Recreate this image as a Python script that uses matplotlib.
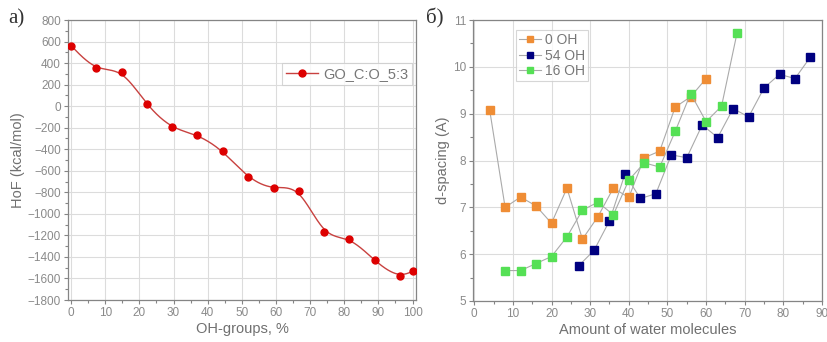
import numpy as np
import matplotlib
matplotlib.use("Agg")
import matplotlib.pyplot as plt

# ---- data: panel a ----
oh_pct = [0, 7.4, 14.8, 22.2, 29.6, 37.0, 44.4, 51.9, 59.3, 66.7, 74.1, 81.5, 88.9, 96.3, 100]
hof = [562, 352, 315, 19, -197, -271, -420, -660, -759, -787, -1167, -1238, -1433, -1575, -1534]

# ---- data: panel b ----
x_0oh = [4, 8, 12, 16, 20, 24, 28, 32, 36, 40, 44, 48, 52, 56, 60]
d_0oh = [9.08, 7.00, 7.22, 7.03, 6.66, 7.41, 6.32, 6.80, 7.41, 7.21, 8.06, 8.20, 9.14, 9.36, 9.75]
x_54oh = [27, 31, 35, 39, 43, 47, 51, 55, 59, 63, 67, 71, 75, 79, 83, 87]
d_54oh = [5.75, 6.08, 6.71, 7.71, 7.19, 7.29, 8.12, 8.06, 8.76, 8.49, 9.11, 8.93, 9.55, 9.84, 9.75, 10.21]
x_16oh = [8, 12, 16, 20, 24, 28, 32, 36, 40, 44, 48, 52, 56, 60, 64, 68]
d_16oh = [5.65, 5.65, 5.80, 5.95, 6.37, 6.94, 7.11, 6.84, 7.58, 7.95, 7.86, 8.62, 9.43, 8.83, 9.16, 10.72]


def natural_spline(x, y, xs):
    x = np.asarray(x, float); y = np.asarray(y, float)
    m = len(x); h = np.diff(x)
    A = np.zeros((m, m)); b = np.zeros(m)
    A[0, 0] = A[-1, -1] = 1
    for i in range(1, m - 1):
        A[i, i - 1] = h[i - 1]; A[i, i] = 2 * (h[i - 1] + h[i]); A[i, i + 1] = h[i]
        b[i] = 6 * ((y[i + 1] - y[i]) / h[i] - (y[i] - y[i - 1]) / h[i - 1])
    M = np.linalg.solve(A, b)
    idx = np.clip(np.searchsorted(x, xs) - 1, 0, m - 2)
    xi, xi1, hi = x[idx], x[idx + 1], h[idx]
    return (M[idx] * (xi1 - xs) ** 3 / (6 * hi) + M[idx + 1] * (xs - xi) ** 3 / (6 * hi)
            + (y[idx] / hi - M[idx] * hi / 6) * (xi1 - xs)
            + (y[idx + 1] / hi - M[idx + 1] * hi / 6) * (xs - xi))


def bspline_curve(x, y, xs, per=60):
    """Uniform cubic B-spline with the data as control points (ends clamped)."""
    P = np.column_stack([x, y]).astype(float)
    P = np.vstack([P[0], P[0], P, P[-1], P[-1]])
    pts = []
    t = np.linspace(0, 1, per, endpoint=False)
    B0 = (1 - t) ** 3 / 6
    B1 = (3 * t**3 - 6 * t**2 + 4) / 6
    B2 = (-3 * t**3 + 3 * t**2 + 3 * t + 1) / 6
    B3 = t**3 / 6
    for i in range(len(P) - 3):
        seg = (B0[:, None] * P[i] + B1[:, None] * P[i + 1]
               + B2[:, None] * P[i + 2] + B3[:, None] * P[i + 3])
        pts.append(seg)
    pts.append(P[-1][None, :])
    pts = np.vstack(pts)
    return np.interp(xs, pts[:, 0], pts[:, 1])


def smooth_curve(x, y, n=600):
    xs = np.linspace(x[0], x[-1], n)
    return xs, 0.5 * natural_spline(x, y, xs) + 0.5 * bspline_curve(x, y, xs)


plt.rcParams['font.family'] = ['Liberation Sans', 'DejaVu Sans']
tick_col = '#8a8a8a'
spine_col = '#858585'
grid_col = '#dcdcdc'

fig = plt.figure(figsize=(8.27, 3.42), dpi=100)
ax1 = fig.add_axes([0.0822, 0.1228, 0.4208, 0.8187])
ax2 = fig.add_axes([0.572, 0.1199, 0.422, 0.8216])


def style(ax):
    for s in ax.spines.values():
        s.set_color(spine_col)
        s.set_linewidth(0.9)
    ax.tick_params(which='major', direction='out', length=3, width=0.8, color=spine_col,
                   labelcolor=tick_col, labelsize=8.5, pad=2)
    ax.tick_params(which='minor', direction='out', length=2, width=0.8, color=spine_col)
    ax.tick_params(top=False, right=False, which='both')
    ax.grid(True, which='major', color=grid_col, lw=0.8)
    ax.set_axisbelow(True)


# ---- panel a ----
style(ax1)
xs, ys = smooth_curve(oh_pct, hof)
line_col = '#c8413f'
ax1.plot(xs, ys, color=line_col, lw=1.0, zorder=2)
ax1.plot(oh_pct, hof, 'o', color='#dd0000', ms=5, zorder=3)
ax1.plot([], [], '-o', color=line_col, mfc='#dd0000', mec='#dd0000', ms=5, lw=1.0,
         label='GO_C:O_5:3')
ax1.set_xlim(-0.9, 101)
ax1.set_ylim(-1800, 800)
ax1.set_xticks(np.arange(0, 101, 10))
ax1.set_xticks(np.arange(5, 100, 10), minor=True)
ax1.set_yticks(np.arange(-1800, 801, 200))
ax1.set_yticks(np.arange(-1700, 800, 200), minor=True)
ax1.set_xlabel('OH-groups, %', color='#707070', fontsize=10.5, labelpad=2)
ax1.set_ylabel('HoF (kcal/mol)', color='#707070', fontsize=10.5, labelpad=2)
leg1 = ax1.legend(loc='upper left', bbox_to_anchor=(0.615, 0.848), fontsize=10.5,
                  frameon=True, fancybox=False, handlelength=2.2, borderpad=0.3,
                  borderaxespad=0.0, handletextpad=0.3, labelcolor='#777777')
leg1.get_frame().set_edgecolor('#cccccc')
leg1.get_frame().set_linewidth(0.8)

# ---- panel b ----
style(ax2)
gray = '#aaaaaa'
ax2.plot(x_0oh, d_0oh, '-s', color=gray, lw=0.8, mfc='#ef8d35', mec='#ef8d35', ms=5.5,
         label='0 OH')
ax2.plot(x_54oh, d_54oh, '-s', color=gray, lw=0.8, mfc='#000080', mec='#000080', ms=5.5,
         label='54 OH')
ax2.plot(x_16oh, d_16oh, '-s', color=gray, lw=0.8, mfc='#55e055', mec='#55e055', ms=5.5,
         label='16 OH')
ax2.set_xlim(-0.3, 90)
ax2.set_ylim(5, 11)
ax2.set_xticks(np.arange(0, 91, 10))
ax2.set_xticks(np.arange(5, 90, 10), minor=True)
ax2.set_yticks(np.arange(5, 11.1, 1))
ax2.set_yticks(np.arange(5.5, 11, 1), minor=True)
ax2.set_xlabel('Amount of water molecules', color='#707070', fontsize=10.5, labelpad=2)
ax2.set_ylabel('d-spacing (A)', color='#707070', fontsize=10.5, labelpad=2)
leg2 = ax2.legend(loc='upper left', bbox_to_anchor=(0.123, 0.964), fontsize=10,
                  frameon=True, fancybox=False, handlelength=1.6, borderpad=0.2,
                  borderaxespad=0.0, handletextpad=0.3, labelspacing=0.12,
                  markerscale=0.8, labelcolor='#777777')
leg2.get_frame().set_edgecolor('#cccccc')
leg2.get_frame().set_linewidth(0.8)

# panel letters
fig.text(0.010, 0.945, 'а)', family=['Liberation Serif', 'DejaVu Serif'], fontsize=15,
         color='#333333', va='center', ha='left')
fig.text(0.515, 0.945, 'б)', family=['Liberation Serif', 'DejaVu Serif'], fontsize=15,
         color='#333333', va='center', ha='left')

fig.savefig('out.png', dpi=100)
